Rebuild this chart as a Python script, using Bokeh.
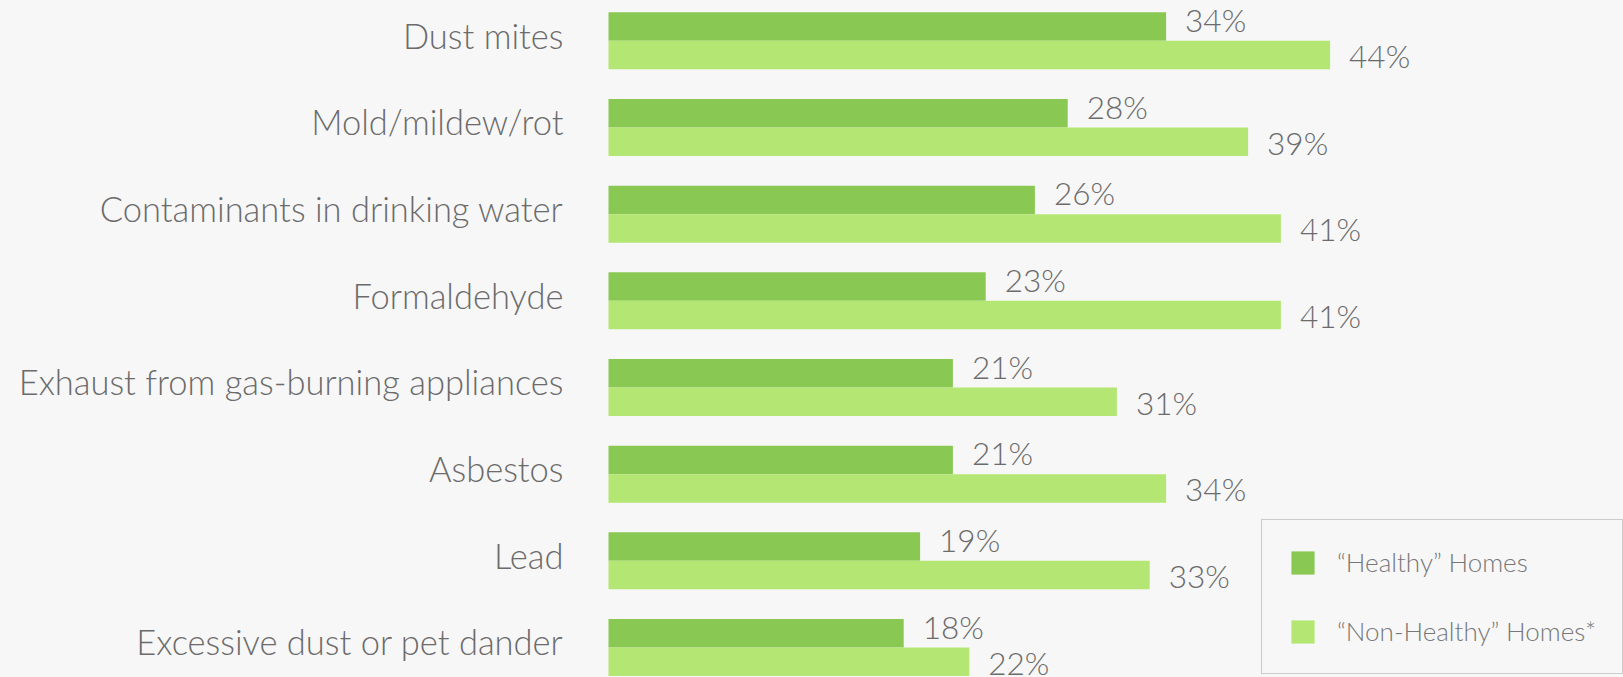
from bokeh.plotting import figure
from bokeh.models import Range1d, ColumnDataSource, Legend, LegendItem
from bokeh.core.properties import value
from bokeh.embed import file_html
from bokeh.resources import INLINE

categories = ["Dust mites", "Mold/mildew/rot", "Contaminants in drinking water", "Formaldehyde",
              "Exhaust from gas-burning appliances", "Asbestos", "Lead", "Excessive dust or pet dander"]
healthy = [34, 28, 26, 23, 21, 21, 19, 18]
non_healthy = [44, 39, 41, 41, 31, 34, 33, 22]
series_names = ["\u201cHealthy\u201d Homes", "\u201cNon-Healthy\u201d Homes*"]

DARK = "#8ac854"
LIGHT = "#b3e673"
BG = "#f7f7f7"
TXT = "#6b6b6b"
FONT = "Lato Light"

W, H = 1623, 677
x0_px = 608.0        # pixel position of 0%
px_per_pct = 16.4
cat_px = 86.66
top_px = 40.35       # centre of first category
bar_h = 0.329
FIX = -13            # empirical baseline correction

ys = list(range(len(categories)))
src = ColumnDataSource(dict(
    y=ys,
    cat=categories,
    h=healthy,
    n=non_healthy,
    y_h=[y - bar_h / 2 for y in ys],
    y_n=[y + bar_h / 2 for y in ys],
    h_lab=[f"{v}%" for v in healthy],
    n_lab=[f"{v}%" for v in non_healthy],
))

p = figure(width=W, height=H, output_backend="svg", toolbar_location=None,
           x_range=Range1d(-x0_px / px_per_pct, (W - x0_px) / px_per_pct),
           y_range=Range1d((H - top_px) / cat_px, -top_px / cat_px),
           min_border=0, background_fill_color=BG, border_fill_color=BG,
           outline_line_color=None)
p.axis.visible = False
p.grid.visible = False

r1 = p.hbar(y="y_h", left=0, right="h", height=bar_h, source=src, fill_color=DARK, line_color=None)
r2 = p.hbar(y="y_n", left=0, right="n", height=bar_h, source=src, fill_color=LIGHT, line_color=None)

p.text(x=0, y="y", text="cat", source=src, x_offset=-45, y_offset=7.4 + FIX,
       text_align="right", text_baseline="alphabetic", text_font=value(FONT),
       text_font_size="34.5px", text_color=TXT)
p.text(x="h", y="y_h", text="h_lab", source=src, x_offset=19, y_offset=6.5 + FIX,
       text_align="left", text_baseline="alphabetic", text_font=value(FONT),
       text_font_size="31.5px", text_color=TXT)
p.text(x="n", y="y_n", text="n_lab", source=src, x_offset=19, y_offset=13.8 + FIX,
       text_align="left", text_baseline="alphabetic", text_font=value(FONT),
       text_font_size="31.5px", text_color=TXT)

legend = Legend(items=[LegendItem(label=series_names[0], renderers=[r1]),
                       LegendItem(label=series_names[1], renderers=[r2])],
                location=(1261, 3), margin=0, padding=26, spacing=37,
                glyph_width=29, glyph_height=29, label_standoff=20,
                label_text_font=FONT, label_text_font_size="26px", label_text_color="#777777",
                border_line_color="#a0a0a0", border_line_width=1.5,
                background_fill_color=BG, background_fill_alpha=1.0)
p.add_layout(legend)

html = file_html(p, INLINE)
html = html.replace("</head>", "<style>html, body {background:#f7f7f7;}</style></head>", 1)
open("out.html", "w").write(html)
